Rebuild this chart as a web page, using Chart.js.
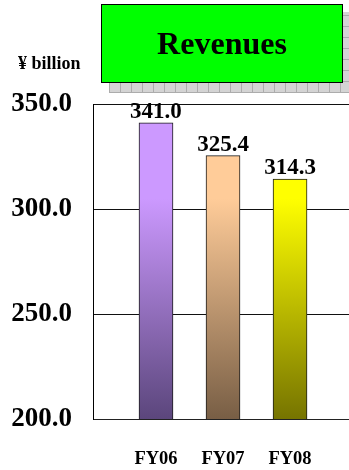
<!DOCTYPE html>
<html>
<head>
<meta charset="utf-8">
<script src="https://cdn.jsdelivr.net/npm/chart.js@4/dist/chart.umd.min.js"></script>
<style>
  html, body { margin: 0; padding: 0; background: #fff; overflow: hidden; }
  #wrap { position: relative; width: 349px; height: 470px; }
  #chart { position: absolute; left: 0; top: 0; }
  .serif { font-family: "Liberation Serif", "Times New Roman", serif; font-weight: bold; color: #000; }
  #titleShadow {
    position: absolute; left: 109px; top: 12px; width: 245px; height: 81px;
    background-color: #d4d4d4;
    background-image:
      repeating-linear-gradient(90deg, #acacac 0 1px, transparent 1px 11px),
      repeating-linear-gradient(0deg, #acacac 0 1px, transparent 1px 11px);
  }
  #titleBox {
    position: absolute; left: 101px; top: 4px; width: 240px; height: 77px;
    background: #00ff00; border: 1.5px solid #000;
    display: flex; align-items: center; justify-content: center;
    font-size: 32px;
  }
  #unit { position: absolute; left: 18px; top: 54px; font-size: 18px; line-height: 1; white-space: nowrap; }
</style>
</head>
<body>
<div id="wrap">
  <canvas id="chart" width="349" height="470"></canvas>
  <div id="titleShadow"></div>
  <div id="titleBox" class="serif">Revenues</div>
  <div id="unit" class="serif">¥ billion</div>
</div>
<script>
// Fiscal-year revenues, ¥ billion
const categories = ['FY06', 'FY07', 'FY08'];
const revenues = [341.0, 325.4, 314.3];
const yTicks = [200, 250, 300, 350];

// Bar shading: light at the top, dark toward the baseline
const topColors = ['#cc99ff', '#ffcc99', '#ffff00'];
const bottomColors = ['#5b467c', '#785e45', '#767400'];

const SERIF = '"Liberation Serif", "Times New Roman", serif';

function barFill(ctx) {
  const area = ctx.chart.chartArea;
  const i = ctx.dataIndex;
  if (!area) return topColors[i];
  const g = ctx.chart.ctx.createLinearGradient(0, area.top, 0, area.bottom);
  g.addColorStop(0, topColors[i]);
  g.addColorStop(0.3, topColors[i]);
  g.addColorStop(1, bottomColors[i]);
  return g;
}

// Value printed above each bar
const valueLabels = {
  id: 'valueLabels',
  afterDatasetsDraw(chart) {
    const { ctx } = chart;
    const meta = chart.getDatasetMeta(0);
    ctx.save();
    ctx.font = 'bold 23px ' + SERIF;
    ctx.fillStyle = '#000';
    ctx.textAlign = 'center';
    ctx.textBaseline = 'alphabetic';
    meta.data.forEach((bar, i) => {
      ctx.fillText(revenues[i].toFixed(1), bar.x, bar.y - 5);
    });
    ctx.restore();
  }
};

new Chart(document.getElementById('chart'), {
  type: 'bar',
  data: {
    datasets: [{
      data: categories.map((c, i) => ({ x: i, y: revenues[i] })),
      backgroundColor: barFill,
      borderColor: '#1a1a1a',
      borderWidth: 1,
      borderSkipped: false,
      barThickness: 34
    }]
  },
  options: {
    responsive: false,
    animation: false,
    layout: { padding: { top: 104, left: 0, right: 0, bottom: 0 } },
    plugins: { legend: { display: false }, tooltip: { enabled: false }, title: { display: false } },
    scales: {
      x: {
        type: 'linear',
        offset: false,
        min: -0.94,
        max: 2.88,
        grid: { display: false, drawTicks: false, offset: false },
        border: { display: true, color: '#222', width: 1 },
        afterFit: s => { s.height = 51; },
        ticks: {
          stepSize: 1,
          includeBounds: false,
          padding: 29,
          maxRotation: 0,
          autoSkip: false,
          color: '#000',
          font: { family: SERIF, size: 18.5, weight: 'bold' },
          callback: v => categories[v] ?? ''
        }
      },
      y: {
        min: 200,
        max: 350,
        afterFit: s => { s.width = 93; },
        afterBuildTicks: s => { s.ticks = yTicks.map(v => ({ value: v })); },
        grid: { color: '#111', lineWidth: 1, drawTicks: false },
        border: { display: true, color: '#000', width: 1 },
        ticks: {
          padding: 21,
          color: '#000',
          font: { family: SERIF, size: 27, weight: 'bold' },
          callback: v => Number(v).toFixed(1)
        }
      }
    }
  },
  plugins: [valueLabels]
});
</script>
</body>
</html>
